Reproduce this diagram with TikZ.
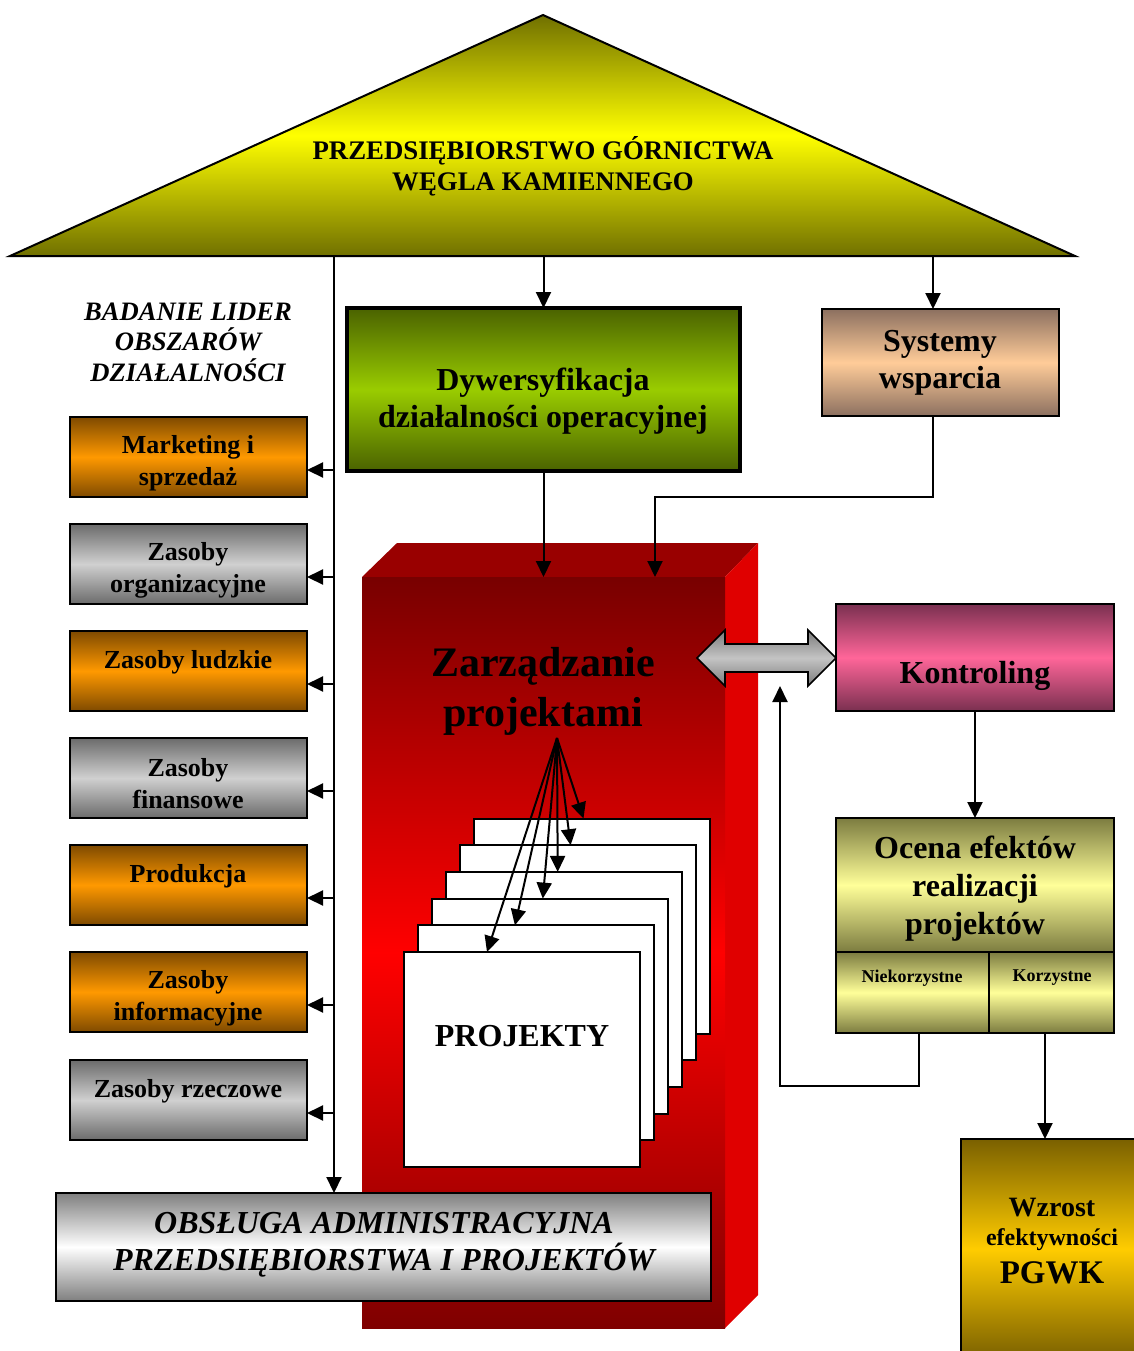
\documentclass[tikz,border=0pt]{standalone}
\usepackage{fontspec}
\setmainfont{Liberation Serif}
\usetikzlibrary{arrows.meta}
\definecolor{triD}{HTML}{707000}
\definecolor{triL}{HTML}{FFFF00}
\definecolor{gnD}{HTML}{4A6200}
\definecolor{gnL}{HTML}{99CC00}
\definecolor{peD}{HTML}{8C7060}
\definecolor{peL}{HTML}{FFCC99}
\definecolor{pkD}{HTML}{7A3050}
\definecolor{pkL}{HTML}{FF6699}
\definecolor{ocD}{HTML}{7C7C40}
\definecolor{ocL}{HTML}{FFFF99}
\definecolor{gdD}{HTML}{7A6000}
\definecolor{gdL}{HTML}{FFCC00}
\definecolor{orD}{HTML}{7F4A00}
\definecolor{orL}{HTML}{FF9900}
\definecolor{gyD}{HTML}{6B6B6B}
\definecolor{gyL}{HTML}{D0D0D0}
\definecolor{obD}{HTML}{7F7F7F}
\definecolor{obL}{HTML}{FFFFFF}
\definecolor{daD}{HTML}{7A7A7A}
\definecolor{daL}{HTML}{C4C4C4}
\definecolor{rD}{HTML}{780000}
\definecolor{rD2}{HTML}{7F0000}
\definecolor{rL}{HTML}{FF0000}
\definecolor{rTop}{HTML}{990000}
\definecolor{rSide}{HTML}{E00000}
\begin{document}
\begin{tikzpicture}[x=0.5pt,y=-0.5pt,
  bx/.style={draw=black, line width=1pt, inner sep=0pt, outer sep=0pt, anchor=north west},
  arr/.style={line width=1pt, -{Triangle[length=8pt,width=7.5pt]}},
  ln/.style={line width=1pt},
  orbox/.style={bx, minimum width=118.5pt, minimum height=40pt, top color=orD, bottom color=orD, middle color=orL},
  gybox/.style={bx, minimum width=118.5pt, minimum height=40pt, top color=gyD, bottom color=gyD, middle color=gyL},
  txt/.style={align=center, inner sep=0pt, yshift=-1.5pt},
  t13/.style={txt, font=\fontsize{13pt}{16pt}\selectfont\bfseries},
  t16/.style={txt, font=\fontsize{16pt}{18.5pt}\selectfont\bfseries}
]
\useasboundingbox (0,0) rectangle (1134,1351);

% ---- top triangle
\coordinate (tribase) at (0,256);
\shadedraw[top color=triD, bottom color=triD, middle color=triL, draw=black, line width=1pt]
  (543,15) -- (1075,256) -- (10,256) -- cycle;
\node[txt, font=\fontsize{13.4pt}{15.5pt}\selectfont\bfseries] (tri) at (543,163)
  {PRZEDSIĘBIORSTWO GÓRNICTWA\\WĘGLA KAMIENNEGO};

% ---- red block
\fill[rTop] (362,577) -- (397,543) -- (758,543) -- (725,577) -- cycle;
\fill[rSide] (725,577) -- (758,543) -- (758,1295) -- (725,1328) -- cycle;
\node[anchor=north west, inner sep=0pt, outer sep=0pt, minimum width=181.5pt, minimum height=375.5pt,
  top color=rD, bottom color=rD2, middle color=rL] (zp) at (362,577) {};
\node[txt, font=\fontsize{21pt}{25pt}\selectfont\bfseries] (zpt) at (543,688) {Zarządzanie\\projektami};

% ---- project stack
\foreach \i in {5,4,3,2,1,0}{
  \node[draw=black, fill=white, line width=1pt, inner sep=0pt, outer sep=0pt, anchor=north west,
    minimum width=118pt, minimum height=107.5pt] (p\i) at ({404+13.9*\i},{952-26.7*\i}) {};
}
\node[t16] (pjt) at (522,1033) {PROJEKTY};
\coordinate (fan) at (557,738);
\foreach \i/\o in {0/41.5,1/48.5,2/55.5,3/56,4/55.5,5/55}
  \draw[arr] (fan) -- ([xshift=\o pt]p\i.north west);

% ---- green box
\node[bx, line width=2pt, minimum width=196.5pt, minimum height=81.5pt,
  top color=gnD, bottom color=gnD, middle color=gnL] (dz) at (347,308) {};
\node[t16] (dzt) at (543,398) {Dywersyfikacja\\działalności operacyjnej};

% ---- Systemy wsparcia
\node[bx, minimum width=118.5pt, minimum height=53.5pt,
  top color=peD, bottom color=peD, middle color=peL] (sw) at (822,309) {};
\node[t16] (swt) at (940,359.5) {Systemy\\wsparcia};

% ---- left label
\node[txt, font=\fontsize{13.3pt}{15.25pt}\selectfont\bfseries\itshape] (bad) at (188,339)
  {BADANIE LIDER\\OBSZARÓW\\DZIAŁALNOŚCI};

% ---- left boxes
\node[orbox] (b1) at (70,417) {};
\node[gybox] (b2) at (70,524) {};
\node[orbox] (b3) at (70,631) {};
\node[gybox] (b4) at (70,738) {};
\node[orbox] (b5) at (70,845) {};
\node[orbox] (b6) at (70,952) {};
\node[gybox] (b7) at (70,1060) {};
\node[t13] at (188,460) {Marketing i\\sprzedaż};
\node[t13] at (188,567) {Zasoby\\organizacyjne};
\node[t13] at (188,659) {Zasoby ludzkie};
\node[t13] at (188,781) {Zasoby\\finansowe};
\node[t13] at (188,873) {Produkcja};
\node[t13] at (188,995.5) {Zasoby\\informacyjne};
\node[t13] at (188,1088) {Zasoby rzeczowe};

% ---- OBSLUGA box
\node[bx, minimum width=327.5pt, minimum height=54pt,
  top color=obD, bottom color=obD, middle color=obL] (obs) at (56,1193) {};
\node[txt, font=\fontsize{16pt}{18.5pt}\selectfont\bfseries\itshape] (obst) at (384,1241.5)
  {OBSŁUGA ADMINISTRACYJNA\\PRZEDSIĘBIORSTWA I PROJEKTÓW};

% ---- spine and left arrows
\coordinate (sp) at (334,256);
\draw[arr] (sp) -- (sp |- obs.north);
\foreach \n in {1,...,7}{
  \coordinate (a\n) at ([yshift=-6.5pt]b\n.east);
  \draw[arr] (sp |- a\n) -- (a\n);
}

% ---- top arrows
\draw[arr] (dz.north |- tribase) -- (dz.north);
\coordinate (swin) at ([xshift=-3.75pt]sw.north);
\draw[arr] (swin |- tribase) -- (swin);
\draw[arr] (dz.south) -- (zp.north);
\coordinate (swout) at ([xshift=-3.75pt]sw.south);
\coordinate (zpin) at ([xshift=146.5pt]zp.north west);
\draw[arr] (swout) -- ++(0,81) -| (zpin);

% ---- Kontroling
\node[bx, minimum width=139pt, minimum height=53.5pt,
  top color=pkD, bottom color=pkD, middle color=pkL] (kt) at (836,604) {};
\node[t16] (ktt) at (975,673) {Kontroling};

% ---- double arrow
\shadedraw[top color=daD, bottom color=daD, middle color=daL, draw=black, line width=0.8pt]
  (697,658) -- (725,630) -- (725,644) -- (808,644) -- (808,630) -- (836,658)
  -- (808,686) -- (808,672) -- (725,672) -- (725,686) -- cycle;

% ---- Ocena
\node[bx, minimum width=139pt, minimum height=67pt,
  top color=ocD, bottom color=ocD, middle color=ocL] (oc) at (836,818) {};
\node[bx, minimum width=76.5pt, minimum height=40.5pt,
  top color=ocD, bottom color=ocD, middle color=ocL] (nk) at (836,952) {};
\node[bx, minimum width=62.5pt, minimum height=40.5pt,
  top color=ocD, bottom color=ocD, middle color=ocL] (kz) at (989,952) {};
\node[txt, font=\fontsize{16pt}{19pt}\selectfont\bfseries] (oct) at (975,886)
  {Ocena efektów\\realizacji\\projektów};
\node[txt, font=\fontsize{9pt}{10pt}\selectfont\bfseries] (nkt) at (912,975) {Niekorzystne};
\node[txt, font=\fontsize{9pt}{10pt}\selectfont\bfseries] (kzt) at (1052,975) {Korzystne};
\draw[arr] (kt.south) -- (oc.north);

% ---- feedback loop
\coordinate (nkout) at ([xshift=3.25pt]nk.south);
\coordinate (fb) at (780,686);
\draw[arr] (nkout) -- ++(0,53) -| (fb);

% ---- Wzrost
\node[bx, minimum width=91pt, minimum height=110pt,
  top color=gdD, bottom color=gdD, middle color=gdL] (wz) at (961,1139) {};
\node[txt, font=\fontsize{14pt}{16pt}\selectfont\bfseries] (wz1) at (1052,1205) {Wzrost};
\node[txt, font=\fontsize{12pt}{13pt}\selectfont\bfseries] (wz2) at (1052,1237) {efektywności};
\node[txt, font=\fontsize{16.5pt}{18pt}\selectfont\bfseries] (wz3) at (1052,1270) {PGWK};
\coordinate (kzout) at ([xshift=-3.25pt]kz.south);
\draw[arr] (kzout) -- (kzout |- wz.north);
\end{tikzpicture}
\end{document}
